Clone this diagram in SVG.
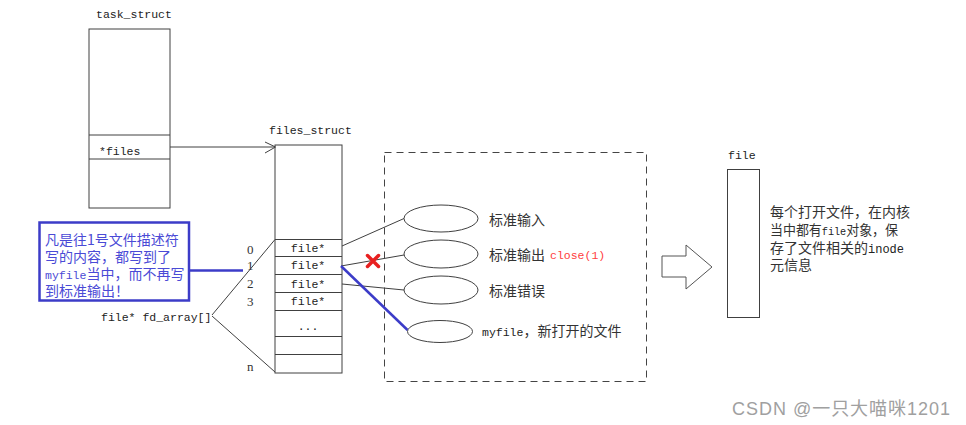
<svg xmlns="http://www.w3.org/2000/svg" width="966" height="425" viewBox="0 0 966 425">
<style>
.box{fill:#fff;stroke:#404040;stroke-width:1}
.ln{fill:none;stroke:#404040;stroke-width:1}
.mono{font-family:"Liberation Mono","Noto Sans CJK SC",monospace;font-size:11.5px;fill:#222}
.cjk{font-family:"Noto Sans CJK SC","Liberation Sans",sans-serif;font-size:14px;fill:#333}
.idx{font-family:"Liberation Serif","Noto Sans CJK SC",serif;font-size:13px;fill:#333}
.blue{font-family:"Noto Sans CJK SC","Liberation Sans",sans-serif;font-size:14px;fill:#4a4ad6}
</style>
<rect width="966" height="425" fill="#fff"/>
<g id="task_struct">
<text class="mono" x="96" y="18">task_struct</text>
<rect class="box" x="89" y="29" width="81" height="179"/>
<line class="ln" x1="89" y1="135" x2="170" y2="135"/>
<line class="ln" x1="89" y1="159" x2="170" y2="159"/>
<text class="mono" x="99" y="155">*files</text>
</g>
<g id="files_struct">
<text class="mono" x="269" y="134">files_struct</text>
<rect class="box" x="275" y="145" width="67" height="228"/>
<line class="ln" x1="275" y1="239.5" x2="342" y2="239.5"/>
<line class="ln" x1="275" y1="256.5" x2="342" y2="256.5"/>
<line class="ln" x1="275" y1="274.5" x2="342" y2="274.5"/>
<line class="ln" x1="275" y1="292.5" x2="342" y2="292.5"/>
<line class="ln" x1="275" y1="310.5" x2="342" y2="310.5"/>
<line class="ln" x1="275" y1="336.5" x2="342" y2="336.5"/>
<line class="ln" x1="275" y1="354.5" x2="342" y2="354.5"/>
<text class="mono" x="308" y="251.5" text-anchor="middle">file*</text>
<text class="mono" x="308" y="269" text-anchor="middle">file*</text>
<text class="mono" x="308" y="287.5" text-anchor="middle">file*</text>
<text class="mono" x="308" y="305" text-anchor="middle">file*</text>
<text class="mono" x="308" y="330" text-anchor="middle">...</text>
<text class="idx" x="247" y="254">0</text>
<text class="idx" x="247" y="269.5">1</text>
<text class="idx" x="247" y="288">2</text>
<text class="idx" x="247" y="306">3</text>
<text class="idx" x="247" y="371">n</text>
<text class="mono" x="101" y="321">file* fd_array[]</text>
</g>
<g id="note">
<rect x="39.5" y="222.5" width="149.5" height="78" fill="#fff" stroke="#3c3cc8" stroke-width="2.5"/>
<text class="blue" x="45" y="245">凡是往1号文件描述符</text>
<text class="blue" x="45" y="262">写的内容，都写到了</text>
<text class="blue" x="45" y="279"><tspan font-family="Liberation Mono, monospace" font-size="11.5">myfile</tspan>当中，而不再写</text>
<text class="blue" x="45" y="296">到标准输出！</text>
</g>
<g id="file_region">
<rect x="384.5" y="152.5" width="262" height="229" fill="none" stroke="#444" stroke-width="1" stroke-dasharray="7 5"/>
</g>
<g id="stdin">
<ellipse class="box" cx="441" cy="218.5" rx="37" ry="13.5"/>
<text class="cjk" x="489" y="225">标准输入</text>
</g>
<g id="stdout">
<ellipse class="box" cx="441" cy="254" rx="37" ry="14"/>
<text class="cjk" x="489" y="260">标准输出</text>
<text class="mono" x="550" y="259" style="fill:#ff4040">close(1)</text>
</g>
<g id="stderr">
<ellipse class="box" cx="441" cy="290" rx="37" ry="14"/>
<text class="cjk" x="489" y="296">标准错误</text>
</g>
<g id="myfile">
<ellipse class="box" cx="440" cy="331.5" rx="32.5" ry="11"/>
<text class="cjk" x="482" y="336"><tspan class="mono" style="font-size:11.5px">myfile</tspan>，新打开的文件</text>
</g>
<g id="file_obj">
<text class="mono" x="728" y="159">file</text>
<rect class="box" x="727.5" y="169.5" width="32" height="148"/>
<text class="cjk" x="770" y="217">每个打开文件，在内核</text>
<text class="cjk" x="770" y="235" textLength="128" lengthAdjust="spacingAndGlyphs">当中都有<tspan class="mono" style="font-size:11px">file</tspan>对象，保</text>
<text class="cjk" x="770" y="252.5">存了文件相关的<tspan class="mono" style="font-size:12px">inode</tspan></text>
<text class="cjk" x="770" y="270">元信息</text>
</g>
<g id="connectors">
<line class="ln" x1="170" y1="147" x2="275" y2="147"/>
<polyline class="ln" points="265,142 275.5,147 265,153"/>
<line class="ln" x1="212" y1="315" x2="275" y2="239.5"/>
<line class="ln" x1="212" y1="316" x2="275" y2="372"/>
<line x1="189" y1="270.5" x2="243" y2="270.5" stroke="#3c3cc8" stroke-width="2.5"/>
<line class="ln" x1="342" y1="246" x2="404" y2="218.5"/>
<line class="ln" x1="341" y1="266" x2="404" y2="255"/>
<line class="ln" x1="342" y1="284" x2="404" y2="290"/>
<line x1="341" y1="266" x2="407.5" y2="330" stroke="#3c3cc8" stroke-width="2.5"/>
<path d="M367.5 255.5 L378.5 266.5 M378.5 255.5 L367.5 266.5" stroke="#e82020" stroke-width="3.5" stroke-linecap="round" fill="none"/>
<polygon points="662,256 686,256 686,245 712,267 686,289 686,277 662,277" fill="#fff" stroke="#555" stroke-width="1"/>
</g>
<text x="732" y="415" font-family="Liberation Sans, Noto Sans CJK SC, sans-serif" font-size="18" fill="#a0a0a0" textLength="218">CSDN @一只大喵咪1201</text>
</svg>
